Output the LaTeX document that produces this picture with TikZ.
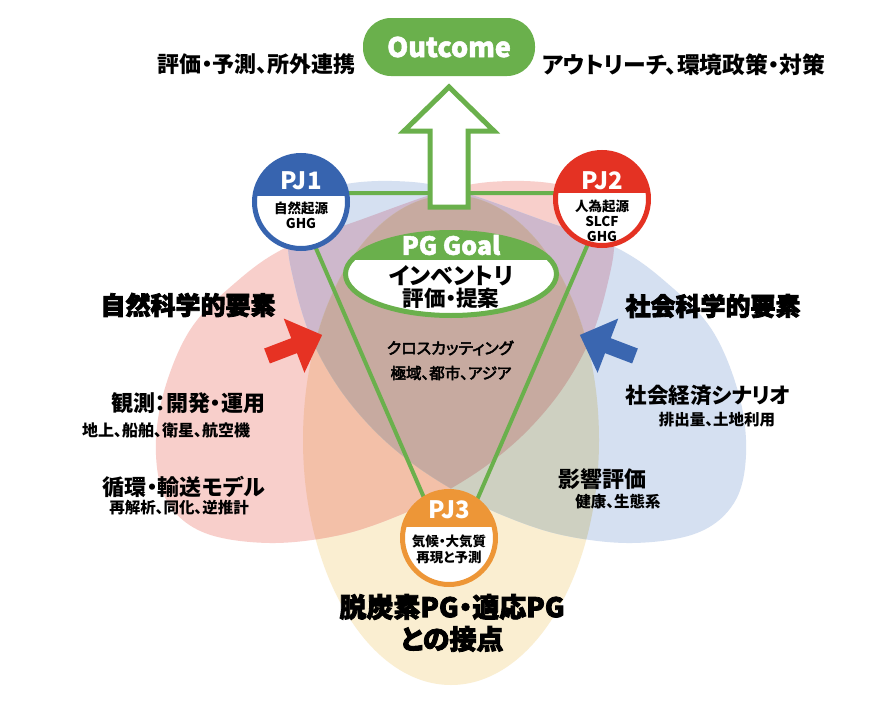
\documentclass[tikz,border=0pt]{standalone}
\usepackage{fontspec}
\setmainfont{Noto Sans CJK JP}[RawFeature=+palt]
\newcommand\heavy{\special{pdf:literal direct 2 Tr 0.8 w}}
\newcommand\semiheavy{\special{pdf:literal direct 2 Tr 0.5 w}}
\usetikzlibrary{calc,shapes.geometric}
\definecolor{cRed}{RGB}{248,207,203}
\definecolor{cBlue}{RGB}{213,224,241}
\definecolor{cYel}{RGB}{250,238,209}
\definecolor{cRB}{RGB}{206,184,204}
\definecolor{cRY}{RGB}{243,192,168}
\definecolor{cBY}{RGB}{206,208,193}
\definecolor{cRBY}{RGB}{199,170,160}
\definecolor{gGreen}{RGB}{106,176,76}
\definecolor{pjBlue}{RGB}{55,100,175}
\definecolor{pjRed}{RGB}{228,50,35}
\definecolor{pjOrange}{RGB}{237,150,55}
\definecolor{arRed}{RGB}{230,50,35}
\definecolor{arBlue}{RGB}{58,102,176}
\newcommand\fsz[1]{\fontsize{#1}{#1}\selectfont}
\tikzset{
  redP/.style={insert path={plot[smooth cycle,tension=0.6] coordinates {
    (450,189) (510,181) (565,186) (603,205) (614,240) (608,282) (592,335) (565,385)
    (530,428) (490,463) (445,492) (400,515) (340,535) (270,543) (205,533) (168,503)
    (156,455) (163,395) (190,330) (235,283) (285,248) (360,220)}}},
  bluP/.style={insert path={plot[smooth cycle,tension=0.6] coordinates {
    (452,189) (392,181) (337,186) (299,205) (288,240) (294,282) (310,335) (337,385)
    (372,428) (412,463) (457,492) (502,515) (562,535) (632,543) (697,533) (734,503)
    (746,455) (739,395) (712,330) (667,283) (617,248) (542,220)}}},
  yelP/.style={insert path={(451,440) ellipse [x radius=148pt,y radius=245pt]}},
  gline/.style={draw=gGreen,line width=4pt},
  txt/.style={inner sep=0pt,align=center},
  pjcirc/.style 2 args={circle,minimum size=93pt,inner sep=0pt,line width=5pt,fill=white,draw=#1,
    path picture={\fill[#1] ($(path picture bounding box.north west)+(-5,-5)$) rectangle ($(path picture bounding box.east)+(5,#2)$);}},
  pjlab/.style={txt,text=white,font=\bfseries\fsz{24}},
  pjsub/.style={txt,font=\bfseries\fontsize{13.5}{15}\selectfont},
  mid/.style={txt,font=\bfseries\fsz{21.5}},
  small/.style={txt,font=\bfseries\fsz{15.5}},
  head/.style={txt,font=\bfseries\fsz{25}},
}
\begin{document}
\begin{tikzpicture}[x=1pt,y=-1pt]
\useasboundingbox (0,0) rectangle (892,707);
\fill[white] (0,0) rectangle (892,707);
% overlapping regions
\fill[cYel,yelP];
\fill[cRed,redP];
\fill[cBlue,bluP];
\begin{scope}
  \clip[redP];
  \fill[cRY,yelP];
  \fill[cRB,bluP];
  \clip[bluP];
  \fill[cRBY,yelP];
\end{scope}
\begin{scope}
  \clip[bluP];
  \fill[cBY,yelP];
\end{scope}
\begin{scope}
  \clip[bluP];
  \clip[yelP];
  \fill[cRBY,redP];
\end{scope}
% triangle
\coordinate (t1) at (292,193);
\coordinate (t2) at (610,193);
\coordinate (t3) at (451,560);
\draw[gline] (t1) -- (t2) (t1) -- (t3) (t2) -- (t3);
% big hollow arrow
\draw[draw=gGreen,line width=5pt,fill=white,line join=miter]
  (449,87) -- (494,131) -- (468,131) -- (468,207) -- (430,207) -- (430,131) -- (404,131) -- cycle;
% outcome
\node[rectangle,rounded corners=28pt,fill=gGreen,minimum width=172pt,minimum height=58pt,inner sep=0pt,
  text=white,font=\bfseries\fsz{27}] (outcome) at (449,47) {\semiheavy Outcome};
\node[txt,font=\bfseries\fsz{22},anchor=east] (tl) at (356,64) {評価・予測、所外連携};
\node[txt,font=\bfseries\fsz{22.8},anchor=west] (tr) at (542,65) {アウトリーチ、環境政策・対策};
% PG goal
\node[ellipse,minimum width=211pt,minimum height=83pt,inner sep=0pt,fill=white,draw=gGreen,line width=5pt,
  path picture={\fill[gGreen] ($(path picture bounding box.north west)+(-5,-5)$) rectangle ($(path picture bounding box.east)+(5,-14)$);}]
  (pg) at (451,274) {};
\node[txt,text=white,font=\bfseries\fsz{25}] (pgl) at (451,245) {\semiheavy PG Goal};
\node[txt,font=\bfseries\fsz{23}] (pgs1) at (451,276) {インベントリ};
\node[txt,font=\bfseries\fsz{21.5}] (pgs2) at (451,298) {評価・提案};
% PJ circles
\node[pjcirc={pjBlue}{-6}] (pj1) at (301,202) {};
\node[pjcirc={pjRed}{-6}] (pj2) at (602,199) {};
\node[pjcirc={pjOrange}{-11}] (pj3) at (449,538) {};
\node[pjlab] (pj1l) at (301,181) {PJ1};
\node[pjsub] (pj1s) at (301,215) {自然起源\\GHG};
\node[pjlab] (pj2l) at (602,181) {PJ2};
\node[pjsub] (pj2s) at (602,221) {人為起源\\SLCF\\GHG};
\node[pjlab] (pj3l) at (449,510) {PJ3};
\node[txt,font=\bfseries\fontsize{13.5}{16}\selectfont] (pj3s) at (449,549) {気候・大気質\\再現と予測};
% red / blue arrows
\fill[arRed,shift={(267,356)},rotate=20.9] (0,-8) -- (29,-8) -- (29,-29) -- (59,0) -- (29,29) -- (29,8) -- (0,8) -- cycle;
\fill[arBlue,shift={(635,356)},rotate=159.1] (0,-8) -- (29,-8) -- (29,-29) -- (59,0) -- (29,29) -- (29,8) -- (0,8) -- cycle;
% texts
\node[head] (lhead) at (188,305) {\heavy 自然科学的要素};
\node[head] (rhead) at (713,306) {\heavy 社会科学的要素};
\node[mid,font=\bfseries\fsz{22}] (obs) at (188,403) {観測：開発・運用};
\node[small,font=\bfseries\fsz{16}] (obs2) at (166,430) {地上、船舶、衛星、航空機};
\node[mid,font=\bfseries\fsz{22}] (mod) at (184,487) {循環・輸送モデル};
\node[small] (mod2) at (179,508) {再解析、同化、逆推計};
\node[mid] (soc) at (708,395) {社会経済シナリオ};
\node[small] (soc2) at (717,420) {排出量、土地利用};
\node[mid,font=\bfseries\fsz{22}] (imp) at (602,479) {影響評価};
\node[small] (imp2) at (618,502) {健康、生態系};
\node[txt,font=\fsz{16}] (cross) at (450,348) {\semiheavy クロスカッティング};
\node[txt,font=\fsz{15.5}] (cross2) at (451,373) {\semiheavy 極域、都市、アジア};
\node[txt,font=\bfseries\fontsize{27}{32}\selectfont] (bot) at (452,623) {\heavy 脱炭素PG・適応PG\\との接点};
\end{tikzpicture}
\end{document}
